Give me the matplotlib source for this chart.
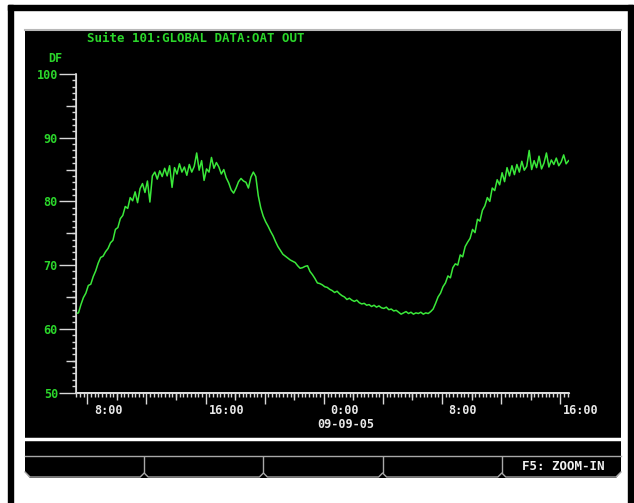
import matplotlib
matplotlib.use('Agg')
import matplotlib.pyplot as plt
import numpy as np
from matplotlib.patches import Rectangle, Polygon
from matplotlib.ticker import MultipleLocator, FixedLocator

# trend data: outside air temp, one sample every 10 minutes
start_hour = 5.83
step_min = 10
oat_values = [
    62.4, 62.5, 63.8, 64.9, 65.6, 66.8, 67.0, 68.2, 69.1, 70.3,
    71.2, 71.4, 72.1, 72.6, 73.5, 73.9, 75.6, 75.9, 77.3, 77.8,
    79.2, 78.9, 80.6, 80.1, 81.5, 79.8, 82.0, 82.8, 81.4, 83.2,
    79.9, 84.0, 84.6, 83.5, 84.8, 83.9, 85.2, 84.0, 85.6, 82.2,
    85.3, 84.3, 85.9, 84.6, 85.4, 84.1, 85.8, 84.6, 85.5, 87.6,
    84.9, 86.4, 83.3, 85.1, 84.6, 86.9, 85.2, 86.1, 85.4, 84.3,
    85.0, 83.7, 82.9, 81.8, 81.3, 82.1, 83.1, 83.6, 83.2, 83.0,
    82.1, 83.8, 84.6, 83.9, 80.9, 79.0, 77.7, 76.8, 76.1, 75.3,
    74.6, 73.7, 72.9, 72.3, 71.7, 71.4, 71.1, 70.8, 70.6, 70.4,
    69.9, 69.5, 69.6, 69.8, 69.9, 69.0, 68.5, 67.9, 67.2, 67.1,
    66.9, 66.6, 66.5, 66.2, 66.0, 65.7, 65.9, 65.5, 65.2, 65.0,
    64.6, 64.8, 64.5, 64.3, 64.5, 64.1, 63.9, 64.0, 63.7, 63.8,
    63.5, 63.7, 63.4, 63.6, 63.3, 63.2, 63.4, 63.0, 63.1, 62.8,
    62.9, 62.6, 62.3, 62.5, 62.7, 62.4, 62.6, 62.3, 62.5, 62.4,
    62.6, 62.3, 62.5, 62.4, 62.7, 63.1, 64.0, 65.0, 65.6, 66.6,
    67.2, 68.3, 68.0, 69.6, 70.2, 70.0, 71.6, 71.3, 72.9, 73.6,
    74.2, 75.6, 75.1, 77.2, 76.9, 78.6, 79.3, 80.6, 80.0, 82.1,
    81.7, 83.4, 82.6, 84.5, 83.1, 85.3, 84.0, 85.6, 84.2, 85.8,
    84.6, 86.3, 84.9, 85.5, 88.0, 85.0, 86.4, 85.3, 87.1, 85.1,
    86.0, 87.6, 85.4, 86.5, 85.8, 86.8, 85.6, 86.2, 87.3, 85.9,
    86.4,
]
x_label_hours = [8, 16, 24, 32, 40]
x_labels = ['8:00', '16:00', '0:00', '8:00', '16:00']
y_ticks = [50, 60, 70, 80, 90, 100]
title = 'Suite 101:GLOBAL DATA:OAT OUT'
units = 'DF'
date_label = '09-09-05'
buttons = ['', '', '', '', 'F5: ZOOM-IN']

times = start_hour + np.arange(len(oat_values)) * step_min / 60.0

plt.rcParams['font.family'] = 'DejaVu Sans Mono'
plt.rcParams['font.weight'] = 'bold'

green = '#2bd62b'
trace = '#3ae83a'
grey = '#d8d8d8'

W, H = 634, 503
fig = plt.figure(figsize=(W / 100, H / 100), dpi=100)
fig.patch.set_facecolor('white')

# background layer in pixel coords (frame, screen, button bar)
bg = fig.add_axes([0, 0, 1, 1], zorder=0)
bg.set_xlim(0, W)
bg.set_ylim(H, 0)
bg.axis('off')

bg.add_patch(Rectangle((8, 5), 625, 5, color='black'))
bg.add_patch(Rectangle((8, 5), 5, 498, color='black'))
bg.add_patch(Rectangle((628, 5), 5, 498, color='black'))

sx0, sx1 = 25, 621
bg.add_patch(Polygon([(sx0, 29), (sx1, 29), (sx1, 472), (sx1 - 5, 478),
                      (sx0 + 5, 478), (sx0, 472)], closed=True,
                     facecolor='black', edgecolor='none'))
bg.plot([sx0, sx1], [29.5, 29.5], color='#b8b8b8', lw=1.5)
bg.plot([sx0, sx1], [438.5, 438.5], color='white', lw=2.5)
bg.plot([sx0, sx1], [456, 456], color='#a8a8a8', lw=1)

# button row with little chevrons at the dividers
bw = (sx1 - sx0) / len(buttons)
dividers = [sx0 + bw * k for k in range(1, len(buttons))]
px = [sx0, sx0 + 5]
py = [472, 477]
for d in dividers:
    px += [d - 4, d, d + 4]
    py += [477, 473, 477]
px += [sx1 - 5, sx1]
py += [477, 472]
bg.plot(px, py, color='#a8a8a8', lw=1)
bg.vlines(dividers, 456, 473, color='#a8a8a8', lw=1)
for k, b in enumerate(buttons):
    if b:
        bg.text(sx0 + bw * (k + 0.5) + 2, 467, b, color='#f0f0f0',
                fontsize=9, ha='center', va='center')

bg.text(87, 38, title, color=green, fontsize=9, ha='left', va='center')
bg.text(55, 58, units, color=green, fontsize=8.5, ha='center', va='center')
bg.text(346, 424, date_label, color='#e8e8e8', fontsize=8.5,
        ha='center', va='center')

# the trend plot itself
ax = fig.add_axes([76 / W, 1 - 392.5 / H, (569 - 76) / W, (392.5 - 74) / H],
                  zorder=1)
ax.set_facecolor('black')
ax.plot(times, oat_values, color=trace, lw=1.1)
ax.set_xlim(5.83, 39.19)
ax.set_ylim(50, 100)

for s in ['top', 'right']:
    ax.spines[s].set_visible(False)
for s in ['left', 'bottom']:
    ax.spines[s].set_color(grey)
    ax.spines[s].set_linewidth(1.2)

ax.set_yticks(y_ticks)
ax.yaxis.set_minor_locator(MultipleLocator(1))
ax.tick_params(axis='y', which='major', length=12, width=1, color=grey,
               pad=1, labelcolor=green, labelsize=8.5)
ax.tick_params(axis='y', which='minor', length=3, width=1, color=grey)

ax.xaxis.set_major_locator(MultipleLocator(4, offset=2.6))
ax.xaxis.set_minor_locator(MultipleLocator(0.25, offset=0.1))
ax.tick_params(axis='x', which='major', length=8, width=1, color=grey,
               labelbottom=False)
ax.tick_params(axis='x', which='minor', length=3, width=1, color=grey)

# medium ticks halfway between the long ones
secy = ax.secondary_yaxis('left')
secy.yaxis.set_major_locator(FixedLocator([55, 65, 75, 85, 95]))
secy.tick_params(length=7, width=1, color=grey, labelleft=False)
secy.spines['left'].set_color(grey)
secx = ax.secondary_xaxis('bottom')
secx.xaxis.set_major_locator(MultipleLocator(4, offset=0.6))
secx.tick_params(length=5, width=1, color=grey, labelbottom=False)
secx.spines['bottom'].set_color(grey)

for h, lab in zip(x_label_hours, x_labels):
    ax.text(h, -0.055, lab, transform=ax.get_xaxis_transform(),
            color='#e8e8e8', fontsize=8.5, ha='center', va='center',
            clip_on=False)

fig.savefig('out.png', dpi=100, facecolor='white')
